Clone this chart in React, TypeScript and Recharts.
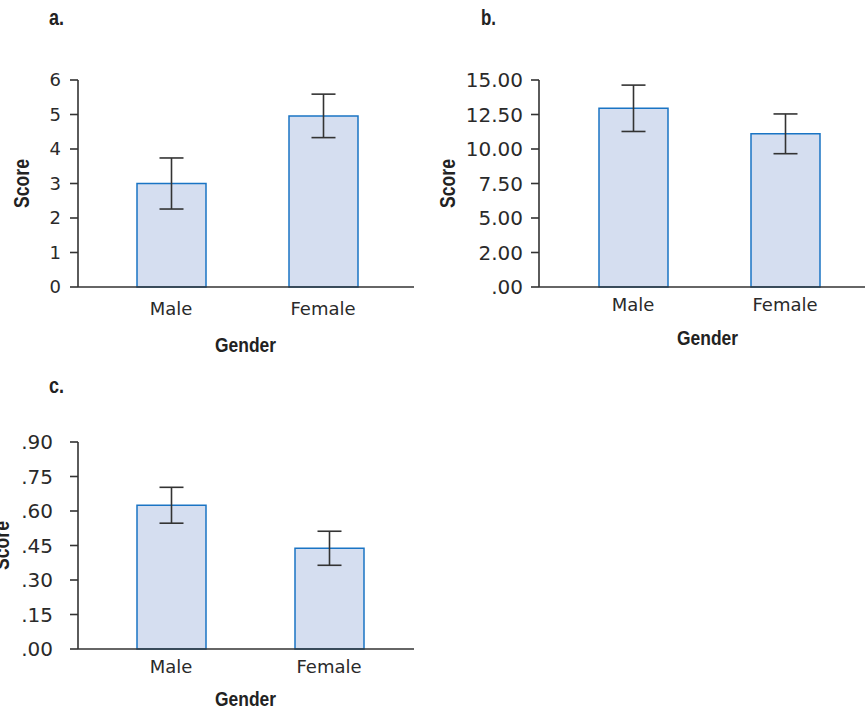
import { BarChart, Bar, XAxis, YAxis, ErrorBar } from 'recharts';

const genders = ['Male', 'Female'];

// panel a
const scoreA = [3.0, 4.96];
const errorA = [0.74, 0.63];
const ticksA = [0, 1, 2, 3, 4, 5, 6];
const tickLabelsA = ['0', '1', '2', '3', '4', '5', '6'];

// panel b (the 2.50 tick is printed as "2.00" in the original)
const scoreB = [12.95, 11.1];
const errorB = [1.68, 1.44];
const ticksB = [0, 2.5, 5, 7.5, 10, 12.5, 15];
const tickLabelsB = ['.00', '2.00', '5.00', '7.50', '10.00', '12.50', '15.00'];

// panel c
const scoreC = [0.625, 0.438];
const errorC = [0.078, 0.074];
const ticksC = [0, 0.15, 0.3, 0.45, 0.6, 0.75, 0.9];
const tickLabelsC = ['.00', '.15', '.30', '.45', '.60', '.75', '.90'];

const AXIS = '#333333';
const BAR_FILL = '#d5def0';
const BAR_STROKE = '#1a74c4';
const TICK_FONT = '"DejaVu Sans", sans-serif';
const BOLD_FONT = '"Liberation Sans", Arial, sans-serif';

interface PanelProps {
  left: number;
  top: number;
  width: number;
  height: number;
  margin: { top: number; right: number; bottom: number; left: number };
  scores: number[];
  errors: number[];
  ticks: number[];
  tickLabels: string[];
  padding: { left: number; right: number };
  yFont: number;
  yTickMargin: number;
  xTickMargin: number;
}

const Panel = (p: PanelProps) => {
  const data = genders.map((g, i) => ({ gender: g, score: p.scores[i], err: p.errors[i] }));
  const axisStyle = { stroke: AXIS, strokeWidth: 1.6 };
  return (
    <div style={{ position: 'absolute', left: p.left, top: p.top }}>
      <BarChart width={p.width} height={p.height} data={data} margin={p.margin}>
        <XAxis
          dataKey="gender"
          height={30}
          padding={p.padding}
          tickLine={false}
          axisLine={axisStyle}
          tickMargin={p.xTickMargin}
          fontSize={18}
          fontFamily={TICK_FONT}
          tick={{ fill: '#2a2a2a', fontSize: 18, fontFamily: TICK_FONT }}
        />
        <YAxis
          width={60}
          domain={[p.ticks[0], p.ticks[p.ticks.length - 1]]}
          ticks={p.ticks}
          interval={0}
          tickSize={8}
          tickMargin={p.yTickMargin}
          axisLine={axisStyle}
          tickLine={axisStyle}
          fontSize={p.yFont}
          fontFamily={TICK_FONT}
          tick={{ fill: '#2a2a2a', fontSize: p.yFont, fontFamily: TICK_FONT }}
          tickFormatter={(v: number) => p.tickLabels[p.ticks.indexOf(v)] ?? String(v)}
        />
        <Bar
          dataKey="score"
          barSize={69}
          fill={BAR_FILL}
          stroke={BAR_STROKE}
          strokeWidth={1.5}
          isAnimationActive={false}
        >
          <ErrorBar
            dataKey="err"
            direction="y"
            width={12}
            stroke="#333"
            strokeWidth={1.6}
            isAnimationActive={false}
          />
        </Bar>
      </BarChart>
    </div>
  );
};

const boldText = { fontFamily: BOLD_FONT, fontWeight: 700, fontSize: 21, fill: '#222' };
const titleText = { ...boldText, fontSize: 22 };
const scoreText = { ...boldText, fontSize: 22 };

const App = () => {
  return (
    <div style={{ position: 'absolute', left: 0, top: 0, width: 865, height: 713, background: '#fff', overflow: 'hidden' }}>
      <Panel
        left={0}
        top={0}
        width={420}
        height={360}
        margin={{ top: 80, right: 6, bottom: 43, left: 18 }}
        scores={scoreA}
        errors={errorA}
        ticks={ticksA}
        tickLabels={tickLabelsA}
        padding={{ left: 17, right: 15 }}
        yFont={18}
        yTickMargin={9}
        xTickMargin={9}
      />
      <Panel
        left={420}
        top={0}
        width={445}
        height={360}
        margin={{ top: 80, right: 0, bottom: 43, left: 59 }}
        scores={scoreB}
        errors={errorB}
        ticks={ticksB}
        tickLabels={tickLabelsB}
        padding={{ left: 18, right: 4 }}
        yFont={20}
        yTickMargin={8}
        xTickMargin={5}
      />
      <Panel
        left={0}
        top={360}
        width={420}
        height={353}
        margin={{ top: 82, right: 6, bottom: 34, left: 18 }}
        scores={scoreC}
        errors={errorC}
        ticks={ticksC}
        tickLabels={tickLabelsC}
        padding={{ left: 14, right: 6 }}
        yFont={20}
        yTickMargin={17}
        xTickMargin={5}
      />
      <svg width={865} height={713} style={{ position: 'absolute', left: 0, top: 0, pointerEvents: 'none' }}>
        <text x={49} y={25} textLength={15} lengthAdjust="spacingAndGlyphs" style={titleText}>a.</text>
        <text x={481} y={25} textLength={15} lengthAdjust="spacingAndGlyphs" style={titleText}>b.</text>
        <text x={49} y={393} textLength={15} lengthAdjust="spacingAndGlyphs" style={titleText}>c.</text>
        <text x={215} y={352} textLength={61} lengthAdjust="spacingAndGlyphs" style={boldText}>Gender</text>
        <text x={677} y={345} textLength={61} lengthAdjust="spacingAndGlyphs" style={boldText}>Gender</text>
        <text x={215} y={706} textLength={61} lengthAdjust="spacingAndGlyphs" style={boldText}>Gender</text>
        <text transform="translate(29,208) rotate(-90)" textLength={49} lengthAdjust="spacingAndGlyphs" style={scoreText}>Score</text>
        <text transform="translate(455,208) rotate(-90)" textLength={49} lengthAdjust="spacingAndGlyphs" style={scoreText}>Score</text>
        <text transform="translate(9,570) rotate(-90)" textLength={49} lengthAdjust="spacingAndGlyphs" style={scoreText}>Score</text>
      </svg>
    </div>
  );
};

export default App;
